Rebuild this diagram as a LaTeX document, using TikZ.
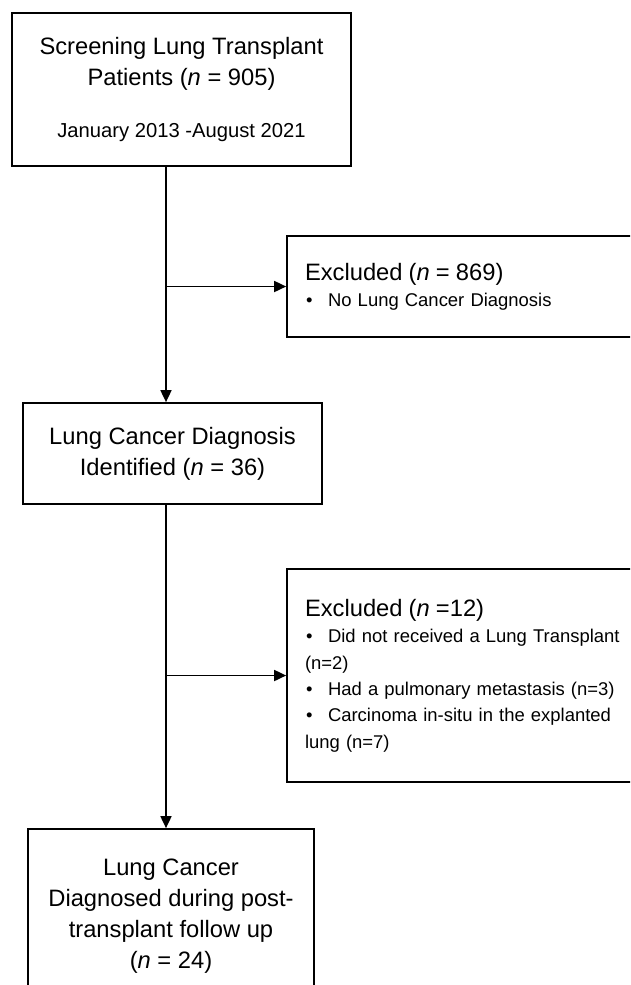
\documentclass[tikz,border=0pt]{standalone}
\usepackage{fontspec}
\setmainfont{Liberation Sans}
\usepackage{tikz}
\usetikzlibrary{arrows.meta, positioning}
\newcommand{\bigText}{\fontsize{13.5}{17.6}\selectfont}
\newcommand{\smallText}{\fontsize{10.5}{15}\selectfont}
\newcommand{\bItem}{\makebox[0.46cm][l]{\hspace{0.02cm}•}}

\begin{document}
\begin{tikzpicture} [
        x=0.02cm, y=-0.02cm,
        box/.style={draw, line width=1pt, align=center, font=\bigText, inner sep=0pt},
        excluded/.style={draw, line width=1pt, align=left, font=\smallText, text width=7.28cm, inner xsep=0.36cm, inner ysep=0pt, minimum width=8cm},
        flow/.style={line width=1pt, -{Triangle[length=0.24cm, width=0.22cm]}}
    ]

    \clip (0,0) rectangle (630,985);

    \node[box, minimum width=6.78cm, minimum height=3.06cm] (screen) at (181.5, 89.5) {Screening Lung Transplant\\Patients (\textit{n} = 905)\\[12.4pt]{\fontsize{11.5}{13}\selectfont January 2013 -August 2021}};

    \node[box, minimum width=5.98cm, minimum height=2.02cm] (ident) at (172.5, 453.5) {Lung Cancer Diagnosis\\Identified (\textit{n} = 36)};

    \node[box, minimum width=5.72cm, minimum height=3.48cm] (final) at (171, 916) {Lung Cancer\\Diagnosed during post-\\transplant follow up\\(\textit{n} = 24)};

    \node[excluded, minimum height=2.02cm] (excl one) at (487, 286.5) {{\bigText Excluded (\textit{n} = 869)}\\\bItem No Lung Cancer Diagnosis};

    \node[excluded, minimum height=4.26cm] (excl two) at (487, 675.5) {{\bigText Excluded (\textit{n} =12)}\\\bItem Did not received a Lung Transplant\\(n=2)\\\bItem Had a pulmonary metastasis (n=3)\\\bItem Carcinoma in-situ in the explanted\\lung (n=7)};

    \coordinate (trunk) at (166, 0);

    \draw[flow] (screen.south -| trunk) -- (ident.north -| trunk);
    \draw[flow] (ident.south -| trunk) -- (final.north -| trunk);
    \draw[flow] (excl one.west -| trunk) -- (excl one.west);
    \draw[flow] (excl two.west -| trunk) -- (excl two.west);

\end{tikzpicture}
\end{document}
